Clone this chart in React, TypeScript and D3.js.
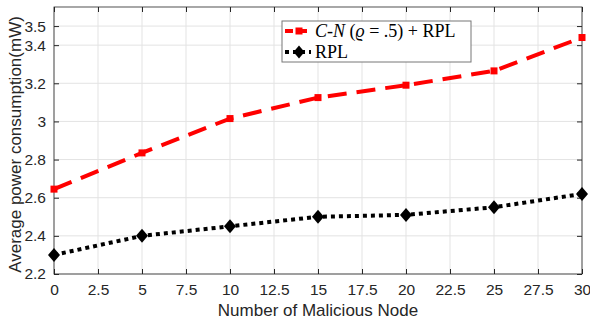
import * as d3 from 'd3';
import { useEffect, useRef } from 'react';

const nodes = [0, 5, 10, 15, 20, 25, 30];
const cnRpl = [2.645, 2.835, 3.015, 3.125, 3.19, 3.265, 3.44];
const rpl = [2.3, 2.4, 2.45, 2.5, 2.51, 2.55, 2.62];
const xTicks = d3.range(0, 30.01, 2.5);
const yTicks = [2.2, 2.4, 2.6, 2.8, 3, 3.2, 3.4, 3.5];

// MATLAB-style diamond: a bit taller than wide
const diamondPath = (w: number, h: number) => `M0,${-h / 2}L${w / 2},0L0,${h / 2}L${-w / 2},0Z`;

export default function App() {
  const ref = useRef<SVGSVGElement | null>(null);

  useEffect(() => {
    const svg = d3.select(ref.current);
    svg.selectAll('*').remove();
    const width = 590;
    const height = 322;
    const margin = { top: 7, right: 8, bottom: 48, left: 54 };
    const innerW = width - margin.left - margin.right;
    const innerH = height - margin.top - margin.bottom;
    const g = svg.append('g').attr('transform', `translate(${margin.left},${margin.top})`);

    const x = d3.scaleLinear().domain([0, 30]).range([0, innerW]);
    const y = d3.scaleLinear().domain([2.2, 3.6]).range([innerH, 0]);

    g.append('rect').attr('width', innerW).attr('height', innerH).attr('fill', '#fff');

    // grid
    g.append('g')
      .selectAll('line')
      .data(xTicks)
      .enter()
      .append('line')
      .attr('x1', (d) => x(d))
      .attr('x2', (d) => x(d))
      .attr('y1', 0)
      .attr('y2', innerH)
      .attr('stroke', '#e3e3e3');
    g.append('g')
      .selectAll('line')
      .data(yTicks)
      .enter()
      .append('line')
      .attr('y1', (d) => y(d))
      .attr('y2', (d) => y(d))
      .attr('x1', 0)
      .attr('x2', innerW)
      .attr('stroke', '#e3e3e3');

    const axisColor = '#262626';
    const sans = 'Liberation Sans, Arial, sans-serif';
    const fmt = (d: d3.NumberValue) => String(+d);
    const styleAxis = (sel: d3.Selection<SVGGElement, unknown, null, undefined>) => {
      sel.select('.domain').remove();
      sel.selectAll('line').attr('stroke', axisColor);
      sel.selectAll('text').attr('fill', axisColor).attr('font-family', sans).attr('font-size', 15.5);
    };

    g.append('g')
      .attr('transform', `translate(0,${innerH})`)
      .call(d3.axisBottom(x).tickValues(xTicks).tickFormat(fmt).tickSizeInner(-5).tickSizeOuter(0).tickPadding(10))
      .call(styleAxis);
    g.append('g')
      .call(d3.axisTop(x).tickValues(xTicks).tickFormat(() => '').tickSizeInner(-5).tickSizeOuter(0))
      .call(styleAxis);
    g.append('g')
      .call(d3.axisLeft(y).tickValues(yTicks).tickFormat(fmt).tickSizeInner(-5).tickSizeOuter(0).tickPadding(8))
      .call(styleAxis);
    g.append('g')
      .attr('transform', `translate(${innerW},0)`)
      .call(d3.axisRight(y).tickValues(yTicks).tickFormat(() => '').tickSizeInner(-5).tickSizeOuter(0))
      .call(styleAxis);

    g.append('rect')
      .attr('width', innerW)
      .attr('height', innerH)
      .attr('fill', 'none')
      .attr('stroke', axisColor)
      .attr('stroke-width', 0.8);

    const line = d3
      .line<number>()
      .x((_, i) => x(nodes[i]))
      .y((d) => y(d));

    g.append('path')
      .datum(cnRpl)
      .attr('d', line)
      .attr('fill', 'none')
      .attr('stroke', '#ff0000')
      .attr('stroke-width', 4)
      .attr('stroke-dasharray', '19,10');
    g.append('g')
      .selectAll('rect')
      .data(cnRpl)
      .enter()
      .append('rect')
      .attr('x', (_, i) => x(nodes[i]) - 3.5)
      .attr('y', (d) => y(d) - 3.5)
      .attr('width', 7)
      .attr('height', 7)
      .attr('fill', '#ff0000');

    g.append('path')
      .datum(rpl)
      .attr('d', line)
      .attr('fill', 'none')
      .attr('stroke', '#000')
      .attr('stroke-width', 4)
      .attr('stroke-dasharray', '4,4');
    g.append('g')
      .selectAll('path')
      .data(rpl)
      .enter()
      .append('path')
      .attr('d', diamondPath(12, 14))
      .attr('transform', (d, i) => `translate(${x(nodes[i])},${y(d)})`)
      .attr('fill', '#000');

    // axis titles
    svg
      .append('text')
      .attr('x', margin.left + innerW / 2)
      .attr('y', height - 6)
      .attr('text-anchor', 'middle')
      .attr('font-family', sans)
      .attr('font-size', 17)
      .attr('fill', axisColor)
      .text('Number of Malicious Node');
    svg
      .append('text')
      .attr('transform', `translate(21,${margin.top + innerH / 2 + 4}) rotate(-90)`)
      .attr('text-anchor', 'middle')
      .attr('font-family', sans)
      .attr('font-size', 17)
      .attr('fill', axisColor)
      .text('Average power consumption(mW)');

    // legend
    const legend = svg.append('g').attr('transform', 'translate(282,21)');
    legend
      .append('rect')
      .attr('width', 189)
      .attr('height', 41)
      .attr('fill', '#fff')
      .attr('stroke', '#777')
      .attr('stroke-width', 1);
    const items = [
      { color: '#ff0000', dash: '8,4,10', marker: 'square' },
      { color: '#000', dash: '4,4', marker: 'diamond' }
    ];
    items.forEach((it, i) => {
      const cy = 10 + i * 21;
      legend
        .append('line')
        .attr('x1', 3)
        .attr('x2', 29)
        .attr('y1', cy)
        .attr('y2', cy)
        .attr('stroke', it.color)
        .attr('stroke-width', 4)
        .attr('stroke-dasharray', it.dash);
      if (it.marker === 'square') {
        legend.append('rect').attr('x', 13.5).attr('y', cy - 3.5).attr('width', 7).attr('height', 7).attr('fill', it.color);
      } else {
        legend.append('path').attr('d', diamondPath(11, 13)).attr('transform', `translate(17,${cy})`).attr('fill', it.color);
      }
    });
    const serif = 'Liberation Serif, Times New Roman, serif';
    const t1 = legend
      .append('text')
      .attr('x', 33)
      .attr('y', 16)
      .attr('font-family', serif)
      .attr('font-size', 18)
      .attr('fill', '#000');
    t1.append('tspan').attr('font-style', 'italic').text('C');
    t1.append('tspan').text('-');
    t1.append('tspan').attr('font-style', 'italic').text('N');
    t1.append('tspan').text('  (');
    t1.append('tspan').attr('font-style', 'italic').text('ϱ');
    t1.append('tspan').text(' = .5) + RPL');
    legend
      .append('text')
      .attr('x', 33)
      .attr('y', 37)
      .attr('font-family', serif)
      .attr('font-size', 18)
      .attr('fill', '#000')
      .text('RPL');
  }, []);

  return <svg ref={ref} width={590} height={322} style={{ position: 'absolute', left: 0, top: 0 }} />;
}
